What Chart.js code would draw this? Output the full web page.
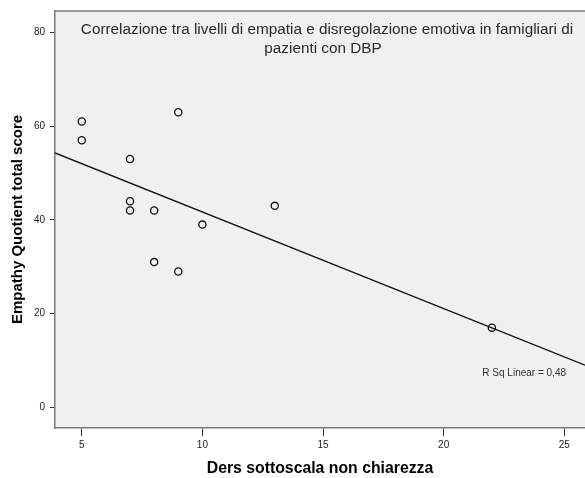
<!DOCTYPE html>
<html><head><meta charset="utf-8">
<script src="https://cdn.jsdelivr.net/npm/chart.js@4.4.0/dist/chart.umd.min.js"></script>
<style>html,body{margin:0;padding:0;background:#fff;overflow:hidden}</style>
</head><body>
<canvas id="c" width="585" height="478"></canvas>
<script>
const dersX = [5, 5, 7, 7, 7, 8, 8, 9, 9, 10, 13, 22];
const empathyY = [61, 57, 53, 44, 42, 42, 31, 63, 29, 39, 43, 17];
const xTicks = [5, 10, 15, 20, 25];
const yTicks = [0, 20, 40, 60, 80];
const titleLines = ['Correlazione tra livelli di empatia e disregolazione emotiva in famigliari di', 'pazienti con DBP'];
const xTitle = 'Ders sottoscala non chiarezza';
const yTitle = 'Empathy Quotient total score';
const xRange = [3.89, 25.86];
const yRange = [-4.42, 84.6];

// least-squares fit line from the data
const n = dersX.length;
const mx = dersX.reduce((a, b) => a + b, 0) / n;
const my = empathyY.reduce((a, b) => a + b, 0) / n;
let sxx = 0, sxy = 0, syy = 0;
for (let i = 0; i < n; i++) {
  sxx += (dersX[i] - mx) ** 2;
  sxy += (dersX[i] - mx) * (empathyY[i] - my);
  syy += (empathyY[i] - my) ** 2;
}
const slope = sxy / sxx;
const intercept = my - slope * mx;
const r2 = (sxy * sxy) / (sxx * syy);
const r2Label = 'R Sq Linear = ' + r2.toFixed(2).replace('.', ',');

const points = dersX.map((x, i) => ({ x: x, y: empathyY[i] }));
const fitLine = xRange.map(x => ({ x: x, y: intercept + slope * x }));

const FONT = '"Liberation Sans", Arial, sans-serif';

const decor = {
  id: 'decor',
  beforeDraw(chart) {
    const { ctx, chartArea: a } = chart;
    ctx.save();
    ctx.fillStyle = '#f0f0f0';
    ctx.fillRect(a.left, a.top, a.right - a.left, a.bottom - a.top);
    ctx.restore();
  },
  afterDraw(chart) {
    const { ctx, chartArea: a } = chart;
    ctx.save();
    ctx.strokeStyle = '#7a7a7a';
    ctx.lineWidth = 1.5;
    ctx.beginPath();
    ctx.moveTo(a.left - 0.75, a.top);
    ctx.lineTo(a.right, a.top);
    ctx.stroke();
    ctx.fillStyle = '#2a2a2a';
    ctx.font = '15.3px ' + FONT;
    ctx.textAlign = 'center';
    ctx.textBaseline = 'alphabetic';
    ctx.fillText(titleLines[0], a.left + 272, a.top + 22.5);
    ctx.fillText(titleLines[1], a.left + 268, a.top + 42);
    ctx.font = '10px ' + FONT;
    ctx.textAlign = 'right';
    ctx.textBaseline = 'middle';
    ctx.fillStyle = '#333';
    ctx.fillText(r2Label, a.left + 511, 373);
    ctx.restore();
  }
};

new Chart(document.getElementById('c'), {
  type: 'scatter',
  data: {
    datasets: [
      {
        data: points,
        pointStyle: 'circle',
        pointRadius: 3.6,
        pointBorderWidth: 1.3,
        borderColor: '#111',
        backgroundColor: 'rgba(0,0,0,0)',
        pointHoverRadius: 3.6
      },
      {
        type: 'line',
        data: fitLine,
        borderColor: '#111',
        borderWidth: 1.3,
        pointRadius: 0,
        fill: false,
        tension: 0
      }
    ]
  },
  options: {
    responsive: false,
    animation: false,
    devicePixelRatio: 1,
    layout: { autoPadding: false, padding: { top: 11, right: 0, left: 0, bottom: 0 } },
    plugins: { legend: { display: false }, tooltip: { enabled: false }, title: { display: false } },
    scales: {
      x: {
        type: 'linear',
        min: xRange[0],
        max: xRange[1],
        afterFit(scale) { scale.height = 50; scale.paddingLeft = 0; scale.paddingRight = 0; },
        afterBuildTicks(scale) { scale.ticks = xTicks.map(v => ({ value: v })); },
        ticks: { font: { size: 10, family: FONT }, color: '#222', padding: 3, maxRotation: 0, autoSkip: false },
        grid: { drawOnChartArea: false, drawTicks: true, tickLength: 8, tickColor: '#333', tickWidth: 1 },
        border: { color: '#7a7a7a', width: 1.5 },
        title: { display: true, text: xTitle, font: { size: 15.8, weight: 'bold', family: FONT }, color: '#000', padding: { top: 0, bottom: 0 } }
      },
      y: {
        type: 'linear',
        min: yRange[0],
        max: yRange[1],
        afterFit(scale) { scale.width = 55; scale.paddingTop = 0; scale.paddingBottom = 0; },
        afterBuildTicks(scale) { scale.ticks = yTicks.map(v => ({ value: v })); },
        ticks: { font: { size: 10, family: FONT }, color: '#222', padding: 5, autoSkip: false },
        grid: { drawOnChartArea: false, drawTicks: true, tickLength: 5, tickColor: '#333', tickWidth: 1 },
        border: { color: '#7a7a7a', width: 1.5 },
        title: { display: true, text: yTitle, font: { size: 15, weight: 'bold', family: FONT }, color: '#000', padding: { top: 9, bottom: 0 } }
      }
    }
  },
  plugins: [decor]
});
</script>
</body></html>
